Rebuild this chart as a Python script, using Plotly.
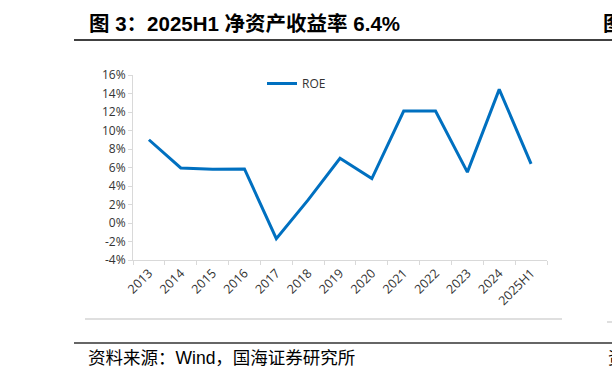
import plotly.graph_objects as go

# ---- data ----
categories = ["2013", "2014", "2015", "2016", "2017", "2018", "2019",
              "2020", "2021", "2022", "2023", "2024", "2025H1"]
roe_values = [9.0, 5.95, 5.8, 5.85, -1.7, 2.5, 7.0, 4.8, 12.1, 12.1, 5.5, 14.45, 6.4]
y_tick_values = [-4, -2, 0, 2, 4, 6, 8, 10, 12, 14, 16]
y_tick_labels = ["-4%", "-2%", "0%", "2%", "4%", "6%", "8%", "10%", "12%", "14%", "16%"]
series_name = "ROE"
title_text = "图 3：2025H1 净资产收益率 6.4%"
source_text = "资料来源：Wind，国海证券研究所"

# ---- layout geometry (pixels) ----
W, H = 612, 379
L, R, T, B = 133, 547, 75, 260
PW, PH = R - L, B - T


def px(xp):
    return (xp - L) / PW


def py(yp):
    return (B - yp) / PH


LINE_COLOR = "#0070C0"
AXIS_COLOR = "#D9D9D9"
LABEL_FONT = "Open Sans, Noto Sans, Noto Sans CJK SC, sans-serif"
CJK_FONT = "Liberation Sans, Arial, Noto Sans CJK SC, sans-serif"

fig = go.Figure()
fig.add_trace(go.Scatter(
    x=categories, y=roe_values, mode="lines", name=series_name,
    line=dict(color=LINE_COLOR, width=3),
    showlegend=True,
))

shapes = [
    # title underline
    dict(type="line", xref="paper", yref="paper", x0=px(74), x1=px(612),
         y0=py(40), y1=py(40), line=dict(color="#000000", width=1.5)),
    # chart frame bottom
    dict(type="line", xref="paper", yref="paper", x0=px(85), x1=px(562),
         y0=py(319), y1=py(319), line=dict(color="#BFBFBF", width=1)),
    dict(type="line", xref="paper", yref="paper", x0=px(607), x1=px(613),
         y0=py(322), y1=py(322), line=dict(color="#BFBFBF", width=1)),
    # bottom dark rule
    dict(type="line", xref="paper", yref="paper", x0=px(74), x1=px(613),
         y0=py(343), y1=py(343), line=dict(color="#666666", width=2)),
]

annotations = [
    dict(text="<b>" + title_text + "</b>", xref="paper", yref="paper",
         x=px(87), y=py(24), xanchor="left", yanchor="middle", showarrow=False,
         font=dict(family=CJK_FONT, size=20.5, color="#000000")),
    dict(text="<b>图</b>", xref="paper", yref="paper",
         x=px(601), y=py(24), xanchor="left", yanchor="middle", showarrow=False,
         font=dict(family=CJK_FONT, size=20.5, color="#000000")),
    dict(text=source_text, xref="paper", yref="paper",
         x=px(86), y=py(358), xanchor="left", yanchor="middle", showarrow=False,
         font=dict(family=CJK_FONT, size=17.5, color="#000000")),
    dict(text="资", xref="paper", yref="paper",
         x=px(606), y=py(358), xanchor="left", yanchor="middle", showarrow=False,
         font=dict(family=CJK_FONT, size=17.5, color="#000000")),
]

fig.update_layout(
    width=W, height=H,
    margin=dict(l=L, r=W - R, t=T, b=H - B, pad=0),
    paper_bgcolor="white", plot_bgcolor="white",
    showlegend=True,
    legend=dict(x=px(262), y=py(69), xanchor="left", yanchor="top",
                bgcolor="rgba(0,0,0,0)", borderwidth=0,
                font=dict(family=LABEL_FONT, size=12, color="#333333"),
                itemwidth=30),
    shapes=shapes,
    annotations=annotations,
    xaxis=dict(
        type="category", range=[-0.5, len(categories) - 0.5],
        showline=True, linecolor=AXIS_COLOR, linewidth=1,
        ticks="outside", tickson="boundaries", ticklen=4, tickcolor=AXIS_COLOR,
        tickangle=-45, showgrid=False, zeroline=False,
        tickfont=dict(family=LABEL_FONT, size=12.5, color="#333333"),
    ),
    yaxis=dict(
        range=[-4, 16], tickvals=y_tick_values, ticktext=y_tick_labels,
        showline=True, linecolor=AXIS_COLOR, linewidth=1,
        ticks="outside", ticklen=4, tickcolor=AXIS_COLOR,
        showgrid=False, zeroline=False,
        tickfont=dict(family=LABEL_FONT, size=12, color="#333333"),
    ),
)

fig.write_html(
    "out.html",
    config={"displayModeBar": False},
    post_script="document.body.style.margin='0';document.body.style.overflow='hidden';",
)
